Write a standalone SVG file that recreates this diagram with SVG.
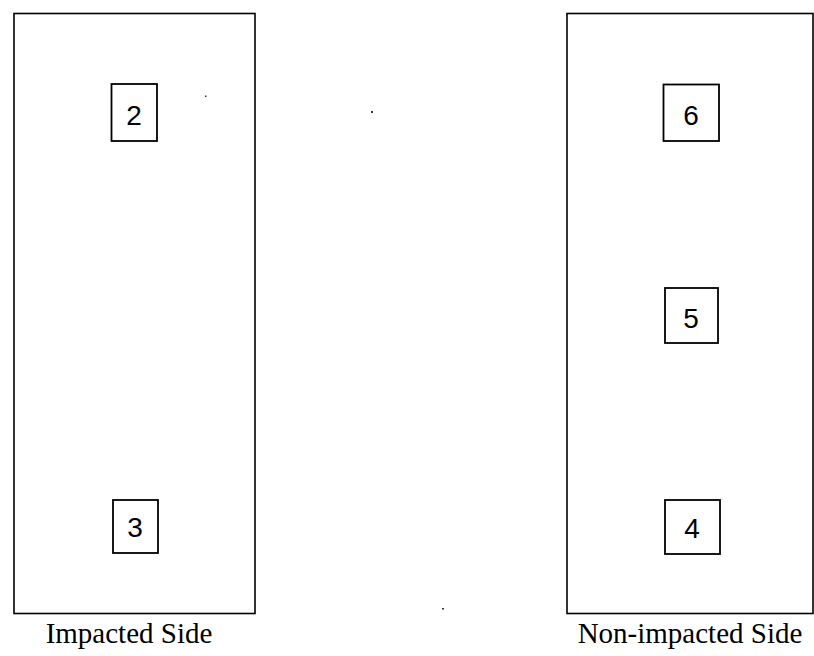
<svg xmlns="http://www.w3.org/2000/svg" width="814" height="656" viewBox="0 0 814 656">
<style>
.side{fill:none;stroke:#000;stroke-width:1.6}
.box{fill:#fff;stroke:#000;stroke-width:1.8}
.num{font-family:"Liberation Sans",Arial,sans-serif;font-size:28px;fill:#000;text-anchor:middle}
.lbl{font-family:"Liberation Serif","Times New Roman",serif;font-size:29px;fill:#000;text-anchor:middle}
.dot{fill:#333}
</style>
<rect width="814" height="656" fill="#fff"/>
<g id="impacted-side">
<rect class="side" x="14" y="13.5" width="241" height="600"/>
<text class="lbl" x="129" y="643">Impacted Side</text>
</g>
<g id="non-impacted-side">
<rect class="side" x="567" y="13.5" width="246" height="600"/>
<text class="lbl" x="690" y="643">Non-impacted Side</text>
</g>
<g id="node-2">
<rect class="box" x="111.5" y="84" width="45.5" height="57"/>
<text class="num" x="134" y="125">2</text>
</g>
<g id="node-3">
<rect class="box" x="113" y="500" width="45" height="53"/>
<text class="num" x="135" y="537">3</text>
</g>
<g id="node-6">
<rect class="box" x="663.5" y="84.5" width="55.5" height="56.5"/>
<text class="num" x="691" y="125">6</text>
</g>
<g id="node-5">
<rect class="box" x="665" y="288" width="53" height="55"/>
<text class="num" x="691" y="328">5</text>
</g>
<g id="node-4">
<rect class="box" x="665" y="500" width="55" height="54"/>
<text class="num" x="692" y="538">4</text>
</g>
<g id="connectors"></g>
<rect class="dot" x="371" y="111" width="2" height="2"/>
<rect class="dot" x="442" y="608" width="2" height="1.5"/>
<rect class="dot" x="205" y="95.5" width="1.5" height="1.5"/>
</svg>
